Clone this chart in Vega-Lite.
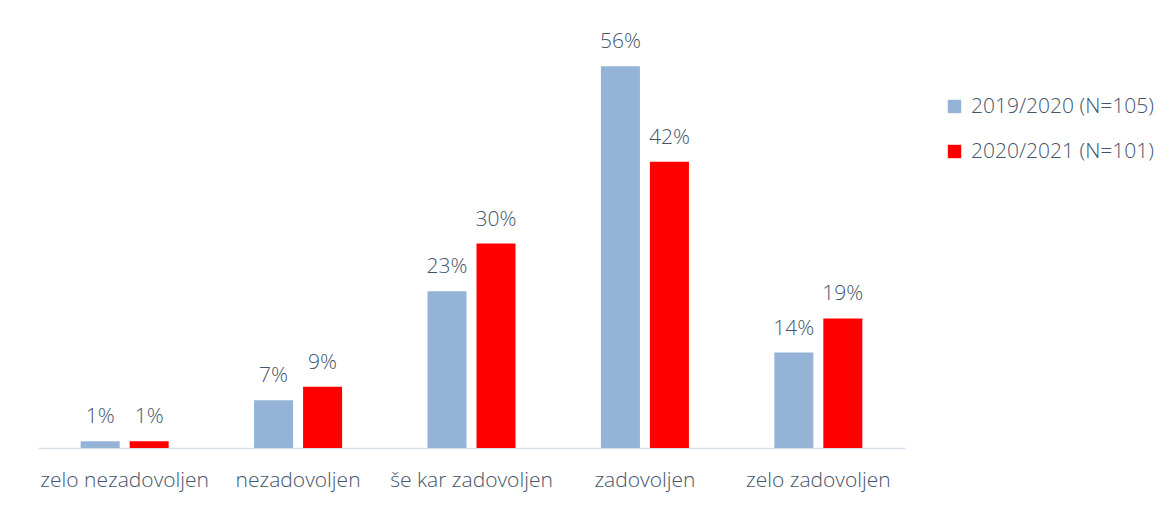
{
  "$schema": "https://vega.github.io/schema/vega-lite/v6.json",
  "autosize": {"type": "none"},
  "width": 867,
  "height": 409,
  "padding": {"left": 38, "top": 39, "right": 268, "bottom": 59},
  "background": "white",
  "config": {
    "view": {"stroke": null},
    "font": "Open Sans"
  },
  "data": {
    "values": [
      {"kategorija": "zelo nezadovoljen", "leto": "2019/2020 (N=105)", "delez": 0.01},
      {"kategorija": "zelo nezadovoljen", "leto": "2020/2021 (N=101)", "delez": 0.01},
      {"kategorija": "nezadovoljen", "leto": "2019/2020 (N=105)", "delez": 0.07},
      {"kategorija": "nezadovoljen", "leto": "2020/2021 (N=101)", "delez": 0.09},
      {"kategorija": "še kar zadovoljen", "leto": "2019/2020 (N=105)", "delez": 0.23},
      {"kategorija": "še kar zadovoljen", "leto": "2020/2021 (N=101)", "delez": 0.30},
      {"kategorija": "zadovoljen", "leto": "2019/2020 (N=105)", "delez": 0.56},
      {"kategorija": "zadovoljen", "leto": "2020/2021 (N=101)", "delez": 0.42},
      {"kategorija": "zelo zadovoljen", "leto": "2019/2020 (N=105)", "delez": 0.14},
      {"kategorija": "zelo zadovoljen", "leto": "2020/2021 (N=101)", "delez": 0.19}
    ]
  },
  "encoding": {
    "x": {
      "field": "kategorija", "type": "nominal", "sort": null, "title": null,
      "scale": {"paddingInner": 0.4925, "paddingOuter": 0.246},
      "axis": {
        "labelAngle": 0, "ticks": false, "domainColor": "#D9E1EC", "domainWidth": 1.5,
        "labelFontSize": 21, "labelColor": "#44546A", "labelPadding": 38,
        "labelBaseline": "alphabetic", "labelFont": "Open Sans", "labelFontWeight": 350
      }
    },
    "xOffset": {
      "field": "leto", "type": "nominal",
      "scale": {"paddingInner": 0.204, "paddingOuter": 0}
    },
    "y": {
      "field": "delez", "type": "quantitative", "axis": null,
      "scale": {"domain": [0, 0.6], "nice": false, "zero": true}
    }
  },
  "layer": [
    {
      "mark": {"type": "bar"},
      "encoding": {
        "color": {
          "field": "leto", "type": "nominal",
          "scale": {"domain": ["2019/2020 (N=105)", "2020/2021 (N=101)"], "range": ["#95B3D7", "#FF0000"]},
          "legend": {
            "title": null, "orient": "none", "legendX": 906, "legendY": 57,
            "symbolType": "square", "symbolSize": 180, "symbolStrokeWidth": 0,
            "labelFontSize": 21, "labelColor": "#44546A", "labelFont": "Open Sans", "labelFontWeight": 350,
            "labelLimit": 300, "rowPadding": 23, "labelOffset": 6
          }
        }
      }
    },
    {
      "mark": {"type": "text", "baseline": "alphabetic", "dy": -18, "fontSize": 21, "fontWeight": 350, "color": "#44546A", "font": "Open Sans"},
      "encoding": {
        "text": {"field": "delez", "type": "quantitative", "format": ".0%"}
      }
    }
  ]
}
